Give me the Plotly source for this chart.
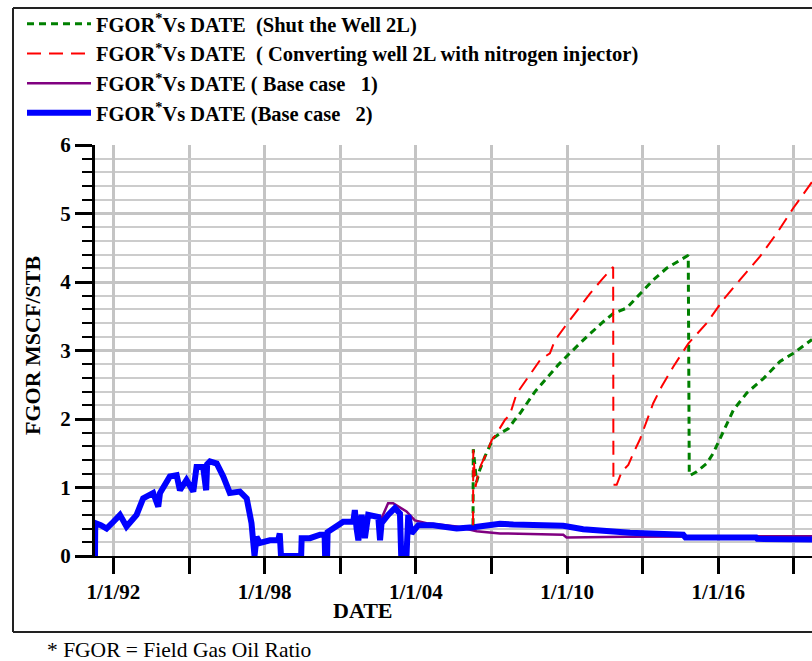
import plotly.graph_objects as go

# ---------------- data (decimal years, FGOR MSCF/STB) ----------------
blue_x = [1991.27, 1991.28, 1991.50, 1991.73, 1992.00, 1992.26, 1992.52, 1992.92, 1993.18, 1993.58,
          1993.78, 1993.85, 1994.24, 1994.51, 1994.64, 1994.90, 1995.17, 1995.30, 1995.56, 1995.68,
          1995.72, 1995.83, 1996.10, 1996.36, 1996.62, 1997.02, 1997.29, 1997.48, 1997.60, 1997.68,
          1997.81, 1998.21, 1998.54, 1998.60, 1998.65, 1999.45, 1999.47, 1999.80, 2000.20, 2000.38,
          2000.40, 2000.48, 2000.50, 2000.86, 2001.12, 2001.52, 2001.58, 2001.65, 2001.72, 2001.85,
          2001.98, 2002.11, 2002.51, 2002.58, 2002.64, 2002.90, 2003.17, 2003.37, 2003.42, 2003.63,
          2003.70, 2003.83, 2004.10, 2004.69, 2005.62, 2006.28, 2006.81, 2007.34, 2007.87, 2009.85,
          2010.64, 2012.50, 2014.61, 2014.70, 2017.50, 2017.55, 2019.72]
blue_y = [0.00, 0.48, 0.45, 0.40, 0.50, 0.60, 0.43, 0.60, 0.84, 0.92,
          0.72, 0.92, 1.16, 1.18, 0.96, 1.11, 0.94, 1.30, 1.30, 0.96,
          1.34, 1.38, 1.35, 1.16, 0.92, 0.94, 0.84, 0.48, 0.00, 0.28,
          0.19, 0.23, 0.23, 0.33, 0.00, 0.00, 0.26, 0.26, 0.31, 0.31,
          0.00, 0.00, 0.35, 0.45, 0.50, 0.50, 0.67, 0.40, 0.23, 0.60,
          0.26, 0.60, 0.57, 0.23, 0.48, 0.60, 0.70, 0.62, 0.00, 0.00,
          0.60, 0.33, 0.45, 0.45, 0.40, 0.42, 0.45, 0.47, 0.46, 0.44,
          0.39, 0.34, 0.31, 0.27, 0.27, 0.25, 0.24]

purple_x = [2002.45, 2002.58, 2002.90, 2003.10, 2003.63, 2003.96, 2004.43, 2005.62, 2006.41, 2007.34,
            2009.85, 2009.98, 2012.36, 2014.70, 2017.50, 2019.72]
purple_y = [0.45, 0.50, 0.77, 0.77, 0.65, 0.52, 0.48, 0.43, 0.36, 0.33,
            0.31, 0.27, 0.28, 0.28, 0.29, 0.29]

green_x = [2006.27, 2006.28, 2006.41, 2006.54, 2006.74, 2006.94, 2007.07, 2007.34, 2007.67, 2007.93,
           2008.13, 2008.73, 2009.19, 2009.65, 2010.11, 2010.78, 2011.44, 2011.83, 2012.37, 2012.89,
           2013.42, 2013.95, 2014.48, 2014.81, 2014.85, 2014.90, 2015.14, 2015.54, 2015.80, 2016.07,
           2016.60, 2017.13, 2017.79, 2018.45, 2018.98, 2019.72]
green_y = [0.45, 1.56, 1.08, 1.26, 1.45, 1.62, 1.72, 1.79, 1.86, 1.99,
           2.08, 2.40, 2.59, 2.79, 2.96, 3.20, 3.42, 3.54, 3.62, 3.83,
           4.03, 4.20, 4.32, 4.39, 1.18, 1.18, 1.23, 1.35, 1.50, 1.72,
           2.13, 2.38, 2.59, 2.84, 2.96, 3.16]

red_x = [2006.27, 2006.28, 2006.30, 2006.37, 2006.48, 2006.61, 2006.81, 2007.01, 2007.21, 2007.54,
         2007.73, 2008.00, 2008.46, 2008.93, 2009.32, 2009.52, 2009.92, 2010.38, 2010.91, 2011.37,
         2011.63, 2011.83, 2011.84, 2011.97, 2012.17, 2012.43, 2012.63, 2012.89, 2013.42, 2013.75,
         2014.21, 2014.81, 2015.54, 2016.20, 2016.86, 2017.65, 2018.32, 2018.98, 2019.72]
red_y = [0.45, 1.55, 1.40, 1.01, 1.21, 1.35, 1.50, 1.69, 1.79, 1.99,
         2.06, 2.37, 2.62, 2.86, 2.96, 3.15, 3.35, 3.57, 3.83, 4.03,
         4.13, 4.22, 1.04, 1.04, 1.23, 1.33, 1.50, 1.70, 2.23, 2.47,
         2.76, 3.10, 3.40, 3.74, 4.03, 4.37, 4.71, 5.08, 5.46]

label_years = [1992, 1998, 2004, 2010, 2016]
label_text = ["1/1/92", "1/1/98", "1/1/04", "1/1/10", "1/1/16"]
y_ticks = [0, 1, 2, 3, 4, 5, 6]

legend_names = [
    "FGOR<sup>*</sup>Vs DATE&nbsp; (Shut the Well 2L)",
    "FGOR<sup>*</sup>Vs DATE&nbsp; ( Converting well 2L with nitrogen injector)",
    "FGOR<sup>*</sup>Vs DATE ( Base case &nbsp; 1)",
    "FGOR<sup>*</sup>Vs DATE (Base case &nbsp; 2)",
]

# ---------------- layout geometry ----------------
W, H = 812, 661
ML, MR, MT, MB = 95, 0, 145, 105
PW, PH = W - ML - MR, H - MT - MB


def px(x):
    return (x - ML) / PW


def py(y):
    return (H - MB - y) / PH


SERIF = "Liberation Serif"

fig = go.Figure()
fig.add_trace(go.Scatter(x=purple_x, y=purple_y, mode="lines", name=legend_names[2],
                         line=dict(color="#800080", width=2.5), legendrank=3))
fig.add_trace(go.Scatter(x=blue_x, y=blue_y, mode="lines", name=legend_names[3],
                         line=dict(color="#0000ff", width=6), legendrank=4))
fig.add_trace(go.Scatter(x=green_x, y=green_y, mode="lines", name=legend_names[0],
                         line=dict(color="#008000", width=3, dash="7px,5px"), legendrank=1))
fig.add_trace(go.Scatter(x=red_x, y=red_y, mode="lines", name=legend_names[1],
                         line=dict(color="#ff0000", width=2, dash="14px,8px"), legendrank=2))

grid = "#c4c4c4"
fig.update_layout(
    xaxis=dict(range=[1991.27, 2019.72], tickmode="array", tickvals=label_years, ticktext=label_text,
               showgrid=True, gridcolor=grid, gridwidth=3,
               ticks="outside", ticklen=16, tickwidth=3, tickcolor="#000000",
               minor=dict(tickmode="linear", tick0=1992, dtick=3, ticks="outside", ticklen=16,
                          tickwidth=3, tickcolor="#000000", showgrid=True, gridcolor=grid,
                          gridwidth=3),
               showline=True, linecolor="#000000", linewidth=2, zeroline=False,
               tickfont=dict(family=SERIF, size=21, color="black", weight="bold")),
    yaxis=dict(range=[0, 6], tickmode="array", tickvals=y_ticks,
               showgrid=True, gridcolor=grid, gridwidth=3,
               ticks="outside", ticklen=17, tickwidth=3, tickcolor="#000000",
               showline=True, linecolor="#000000", linewidth=3, zeroline=False,
               minor=dict(dtick=0.2, tick0=0, ticks="outside", ticklen=10, tickwidth=2,
                          tickcolor="#000000", showgrid=True, gridcolor="#cccccc", gridwidth=2),
               tickfont=dict(family=SERIF, size=21, color="black", weight="bold")),
)

shapes = [
    dict(type="line", xref="paper", yref="paper", x0=px(13), x1=px(13), y0=py(8), y1=py(632),
         line=dict(color="#222", width=2)),
    dict(type="line", xref="paper", yref="paper", x0=px(13), x1=px(830), y0=py(8), y1=py(8),
         line=dict(color="#222", width=2)),
    dict(type="line", xref="paper", yref="paper", x0=px(13), x1=px(830), y0=py(632), y1=py(632),
         line=dict(color="#222", width=2)),
]

annotations = [
    dict(text="DATE", x=px(363), y=py(610), xref="paper", yref="paper", showarrow=False,
         xanchor="center", yanchor="middle",
         font=dict(family=SERIF, size=22, color="black", weight="bold")),
    dict(text="FGOR MSCF/STB", x=px(32), y=py(346), xref="paper", yref="paper", showarrow=False,
         xanchor="center", yanchor="middle",
         textangle=-90, font=dict(family=SERIF, size=22, color="black", weight="bold")),
    dict(text="* FGOR = Field Gas Oil Ratio", x=px(45), y=py(650), xref="paper", yref="paper",
         xanchor="left", yanchor="middle", showarrow=False,
         font=dict(family=SERIF, size=21.5, color="black")),
]

fig.update_layout(
    width=W, height=H,
    margin=dict(l=ML, r=MR, t=MT, b=MB, autoexpand=False),
    paper_bgcolor="white", plot_bgcolor="white",
    shapes=shapes, annotations=annotations,
    showlegend=True,
    legend=dict(x=px(22), y=py(4), xanchor="left", yanchor="top", bgcolor="rgba(0,0,0,0)",
                itemwidth=64, tracegroupgap=0,
                font=dict(family=SERIF, size=20.5, color="black", weight="bold")),
)

fig.write_html("out.html")
